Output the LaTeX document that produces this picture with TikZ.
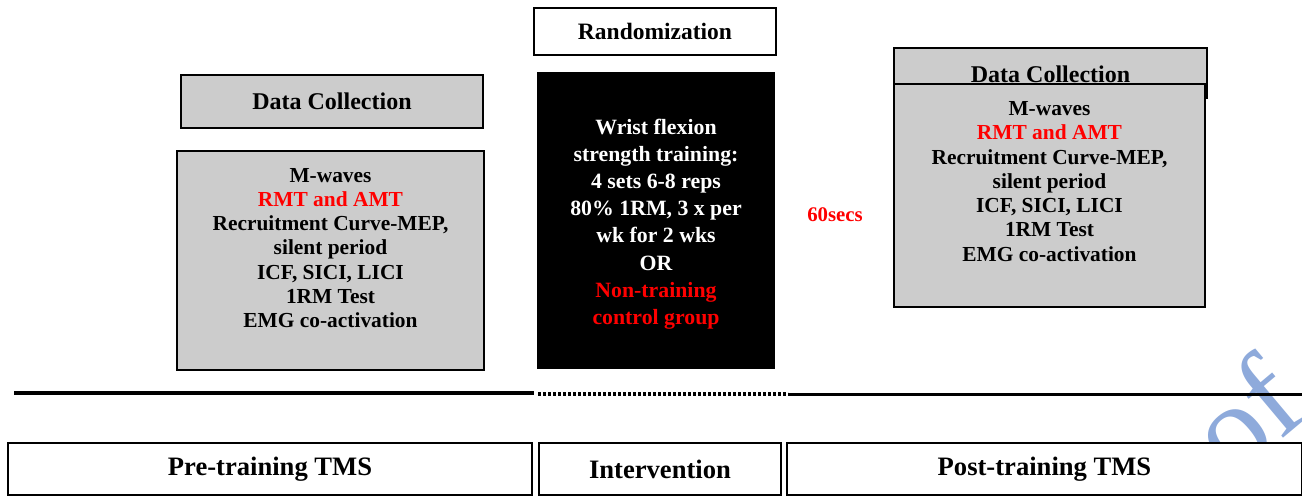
\documentclass[tikz,border=0pt]{standalone}
\usepackage{fontspec}
\setmainfont{Liberation Serif}
\definecolor{boxgray}{RGB}{204,204,204}
\definecolor{wmblue}{RGB}{142,170,219}
\definecolor{txtred}{RGB}{255,0,0}
\begin{document}
\begin{tikzpicture}[x=0.5pt,y=-0.5pt,
  frame/.style={draw=black,line width=1pt,inner sep=0pt},
  graybox/.style={frame,fill=boxgray},
  lbl/.style={font=\bfseries\fontsize{12}{14}\selectfont,align=center,inner sep=0pt},
  blbl/.style={frame,fill=white,minimum height=26pt,font=\bfseries\fontsize{13.3}{15}\selectfont,align=center},
  body/.style={font=\bfseries\fontsize{10.7}{12.15}\selectfont,align=center,inner sep=0pt},
  wbody/.style={font=\bfseries\fontsize{10.9}{13.6}\selectfont,align=center,inner sep=0pt,text=white},
  tline/.style={line width=2pt}]
\useasboundingbox (0,0) rectangle (1302,497);
% watermark (behind everything)
\node[text=wmblue,font=\fontsize{62}{62}\selectfont,rotate=40,anchor=base west,inner sep=0pt] (wm) at (1232,482) {of};
% Randomization
\node[frame,minimum width=121pt,minimum height=23.5pt,font=\bfseries\fontsize{11.75}{14}\selectfont,inner sep=0pt] (rand) at (655,31.5) {Randomization};
% Intervention black box
\node[frame,draw=black,fill=black,minimum width=118pt,minimum height=147.5pt] (train) at (656,220.5) {};
\node[wbody] (traintxt) at (656,224) {Wrist flexion\\strength training:\\4 sets 6-8 reps\\80\% 1RM, 3 x per\\wk for 2 wks\\OR\\\textcolor{txtred}{Non-training}\\\textcolor{txtred}{control group}};
% Left data collection
\node[graybox,minimum width=151pt,minimum height=26.5pt,lbl] (ldc) at (332,101.5) {Data Collection};
\node[graybox,minimum width=153.5pt,minimum height=109.5pt] (lbox) at (330.5,260.5) {};
\node[body] (ltxt) at (330.5,248) {M-waves\\\textcolor{txtred}{RMT and AMT}\\Recruitment Curve-MEP,\\silent period\\ICF, SICI, LICI\\1RM Test\\EMG co-activation};
% Right data collection
\node[graybox,minimum width=156.5pt,minimum height=25pt] (rdc) at (1050.5,73) {};
\node[lbl,anchor=base] (rdctxt) at (1050.5,83) {Data Collection};
\node[graybox,minimum width=155.5pt,minimum height=111.5pt] (rbox) at (1049.5,195.5) {};
\node[body] (rtxt) at (1049.5,181.5) {M-waves\\\textcolor{txtred}{RMT and AMT}\\Recruitment Curve-MEP,\\silent period\\ICF, SICI, LICI\\1RM Test\\EMG co-activation};
% 60secs
\node[font=\bfseries\fontsize{10.4}{12}\selectfont,text=txtred,inner sep=0pt] (secs) at (835,215) {60secs};
% timeline
\coordinate (t0) at (14,393);
\coordinate (t1) at (534,393);
\coordinate (t2) at (538,394);
\coordinate (t3) at (788,394);
\coordinate (t4) at (788,395);
\coordinate (t5) at (1302,395);
\draw[tline] (t0) -- (t1);
\draw[line width=2pt,dash pattern=on 1.6pt off 0.9pt] (t2) -- (t3);
\draw[line width=1.5pt] (t4) -- (t5);
% bottom phases
\node[blbl,minimum width=262pt] (pre) at (270,469) {Pre-training TMS};
\node[blbl,minimum width=121pt] (int) at (660,469) {Intervention};
\node[blbl,minimum width=257.5pt] (post) at (1044.5,469) {Post-training TMS};
\end{tikzpicture}
\end{document}
